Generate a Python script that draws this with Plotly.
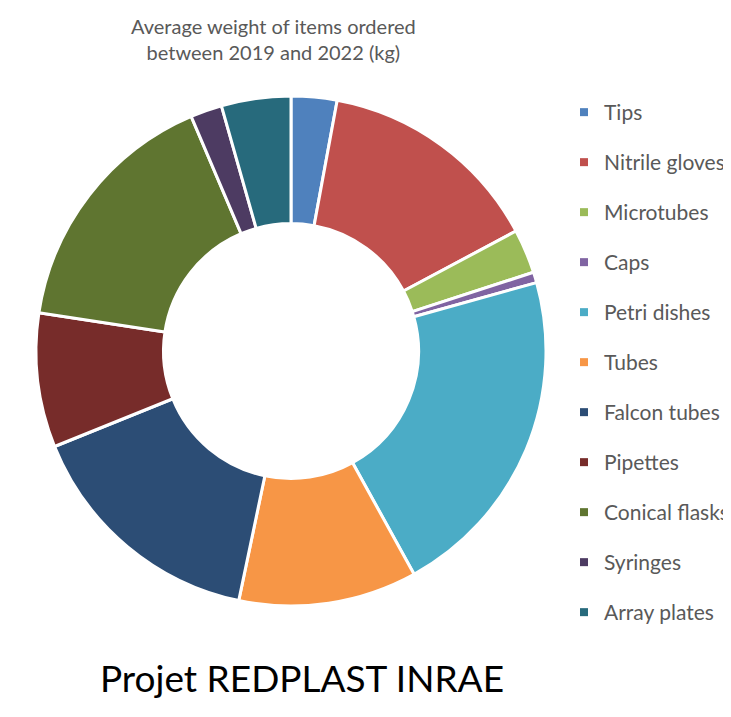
import plotly.graph_objects as go

categories = ["Tips", "Nitrile gloves", "Microtubes", "Caps", "Petri dishes", "Tubes",
              "Falcon tubes", "Pipettes", "Conical flasks", "Syringes", "Array plates"]
values = [2.9, 14.3, 2.8, 0.67, 21.3, 11.3, 15.6, 8.5, 16.2, 2.0, 4.4]
colors = ["#4F81BD", "#C0504D", "#9BBB59", "#8064A2", "#4BACC6", "#F79646",
          "#2C4D75", "#772C2A", "#5F7530", "#4D3B62", "#276A7C"]

# figure sits 8px inside the page (body margin)
W, H = 723, 709
cx, cy, R = 283, 343, 255

fig = go.Figure()
fig.add_trace(go.Pie(
    labels=categories, values=values, hole=0.5, sort=False, direction="clockwise",
    rotation=0, textinfo="none", showlegend=False,
    marker=dict(colors=colors, line=dict(color="white", width=3)),
    domain=dict(x=[(cx - R) / W, (cx + R) / W], y=[(H - cy - R) / H, (H - cy + R) / H]),
))
# legend entries (one group per category for spacing)
for name, col in zip(categories, colors):
    fig.add_trace(go.Scatter(x=[None], y=[None], mode="markers", name=name,
                             legendgroup=name,
                             marker=dict(symbol="square", size=8, color=col)))

fig.update_layout(
    width=W, height=H, margin=dict(l=0, r=0, t=0, b=0, autoexpand=False),
    paper_bgcolor="white", plot_bgcolor="white",
    xaxis=dict(visible=False), yaxis=dict(visible=False),
    font=dict(family="Lato", color="#595959"),
    legend=dict(x=556 / W, xanchor="left", y=1 - 84 / H, yanchor="top",
                tracegroupgap=19.7, font=dict(size=21, color="#595959", family="Lato"),
                bgcolor="rgba(0,0,0,0)"),
    annotations=[
        dict(text="Average weight of items ordered<br>between 2019 and 2022 (kg)",
             x=265 / W, y=1 - 31 / H, xref="paper", yref="paper", showarrow=False,
             font=dict(size=20, color="#595959", family="Lato"), xanchor="center", yanchor="middle"),
        dict(text="Projet REDPLAST INRAE", x=293.5 / W, y=1 - 669 / H, xref="paper", yref="paper",
             showarrow=False, font=dict(size=37, color="#000000", family="Lato"),
             xanchor="center", yanchor="middle"),
    ],
)
fig.write_html("out.html")
